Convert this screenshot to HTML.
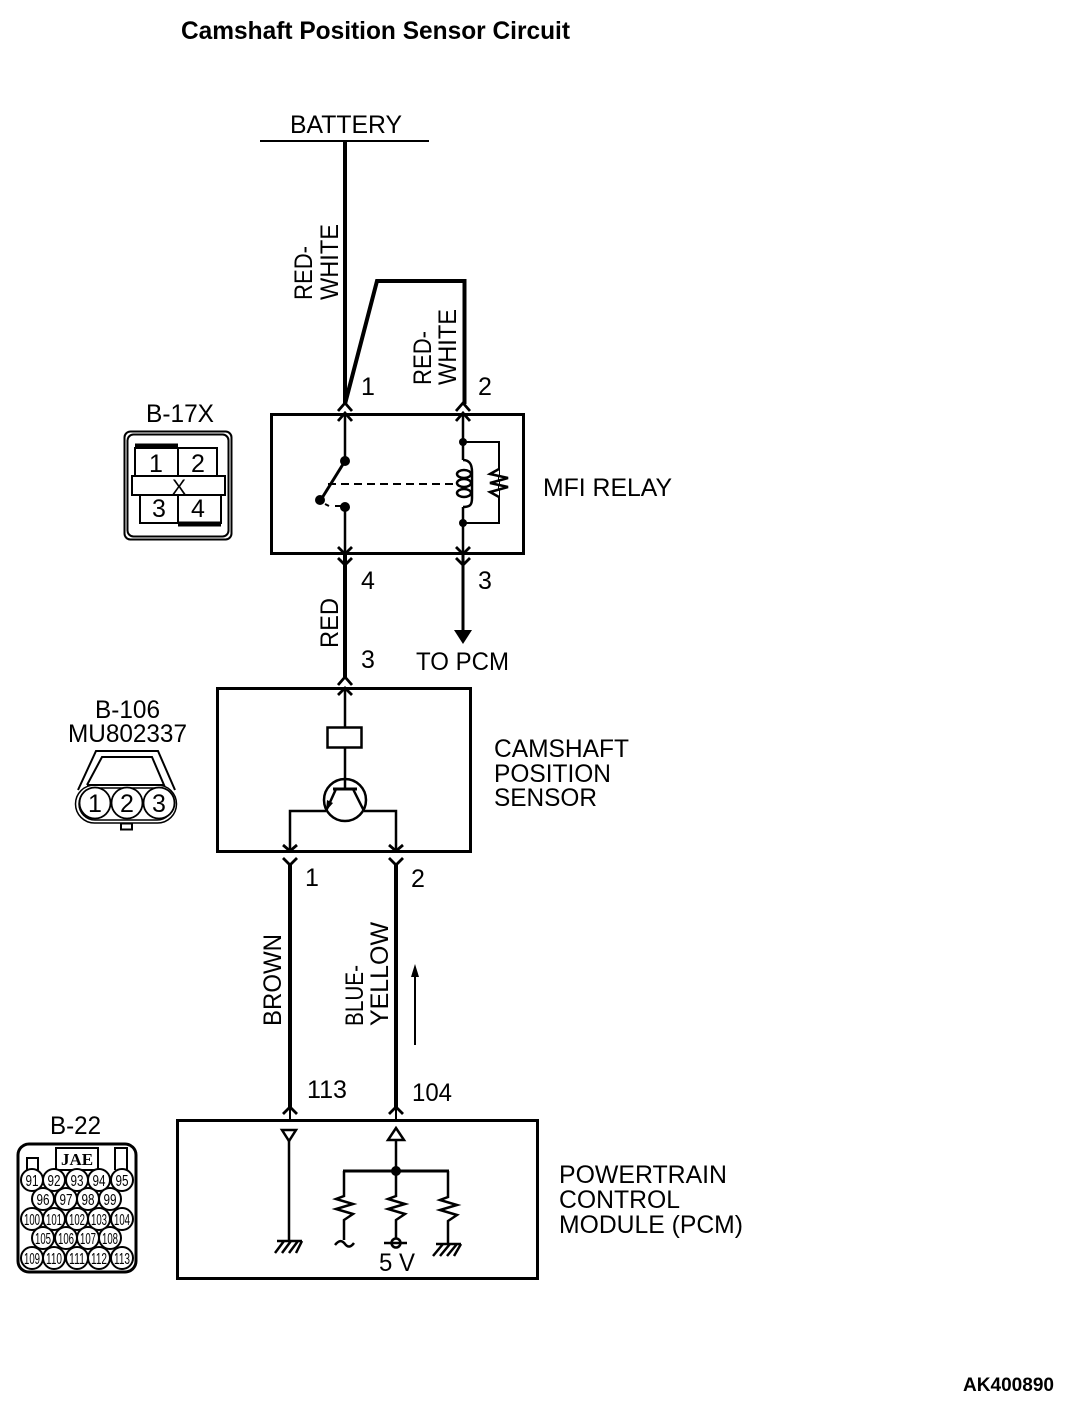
<!DOCTYPE html>
<html><head><meta charset="utf-8"><style>
html,body{margin:0;padding:0;background:#fff}
svg{display:block}
text{font-family:"Liberation Sans",sans-serif;font-size:25px;fill:#000}
.s{fill:none;stroke:#000;stroke-width:2}
.m{fill:none;stroke:#000;stroke-width:2.5}
.c{fill:none;stroke:#000;stroke-width:2.800}
.t{fill:none;stroke:#000;stroke-width:4}
.b{fill:none;stroke:#000;stroke-width:3}
.d{fill:#000}
.n{font-size:16px}
</style></head><body>
<svg width="1072" height="1404" viewBox="0 0 1072 1404" xmlns="http://www.w3.org/2000/svg">
<text x="181" y="39" lengthAdjust="spacingAndGlyphs" textLength="389" style="font-weight:bold">Camshaft Position Sensor Circuit</text>
<text x="963" y="1391" lengthAdjust="spacingAndGlyphs" style="font-weight:bold;font-size:19px" textLength="91">AK400890</text>

<!-- Battery -->
<text x="290" y="133" lengthAdjust="spacingAndGlyphs" textLength="112">BATTERY</text>
<path class="s" d="M260 141H429"/>
<path class="t" d="M345 141V404M345 404L377 281H464.500V404"/>
<text transform="translate(312,300) rotate(-90)" lengthAdjust="spacingAndGlyphs" textLength="54">RED-</text>
<text transform="translate(338,300) rotate(-90)" lengthAdjust="spacingAndGlyphs" textLength="76">WHITE</text>
<text transform="translate(431,385) rotate(-90)" lengthAdjust="spacingAndGlyphs" textLength="54">RED-</text>
<text transform="translate(456,385) rotate(-90)" lengthAdjust="spacingAndGlyphs" textLength="76">WHITE</text>
<text x="361" y="395">1</text>
<text x="478" y="395">2</text>

<!-- Relay -->
<rect class="b" x="271.500" y="414.500" width="252" height="139"/>
<path class="c" d="M338 411L345 403L352 411M338 421L345 413L352 421M456 411L463 403L470 411M456 421L463 413L470 421"/>
<path class="m" d="M345 414V461M345 507V554M463 414V460M463 507V554"/>
<circle class="d" cx="345" cy="461" r="5"/>
<circle class="d" cx="320" cy="500" r="5"/>
<circle class="d" cx="345" cy="507" r="5"/>
<path class="b" d="M345 461L322 498"/>
<path class="s" stroke-dasharray="8 5" d="M328 484H456"/>
<path class="s" d="M325 504L329 506M335 506H342"/>
<circle class="d" cx="463" cy="442" r="4"/>
<circle class="d" cx="463" cy="523" r="4"/>
<path class="s" d="M463 442H499V523H463"/>
<path class="m" d="M463 460C470 460 472 465 472 472V498C472 505 470 507 463 507"/>
<ellipse class="m" cx="464" cy="474" rx="7" ry="4"/>
<ellipse class="m" cx="464" cy="483" rx="7" ry="4"/>
<ellipse class="m" cx="464" cy="493" rx="7" ry="4"/>
<path d="M499 469L490 474L508 478L490 483L508 487L490 492L499 497" fill="#fff" stroke="#000" stroke-width="2.500"/>
<path class="c" d="M338 547L345 554L352 547M338 558L345 565L352 558M456 547L463 554L470 547M456 558L463 565L470 558"/>
<text x="543" y="496" lengthAdjust="spacingAndGlyphs" textLength="129">MFI RELAY</text>

<path class="t" d="M345 555V677"/>
<path class="b" d="M463 555V631"/>
<path class="d" d="M454 630H472L463 644Z"/>
<text x="361" y="589">4</text>
<text x="478" y="589">3</text>
<text x="416" y="670" lengthAdjust="spacingAndGlyphs" textLength="93">TO PCM</text>
<text transform="translate(338,648) rotate(-90)" lengthAdjust="spacingAndGlyphs" textLength="50">RED</text>
<text x="361" y="668">3</text>

<!-- B-17X -->
<text x="146" y="422" lengthAdjust="spacingAndGlyphs" textLength="68">B-17X</text>
<rect class="s" x="124.500" y="431.500" width="107" height="108" rx="6"/>
<rect class="s" x="127.500" y="434.500" width="101" height="102" rx="6"/>
<path class="s" d="M135 447V476M178 447V476M217 447V476M135 448H217"/>
<path d="M135 446H178" stroke="#000" stroke-width="5"/>
<rect class="s" x="132" y="476" width="93" height="19"/>
<path class="s" d="M140 495V523H221V495M178 495V523"/>
<path d="M178 524H221" stroke="#000" stroke-width="5"/>
<text x="149" y="472">1</text>
<text x="191" y="472">2</text>
<text x="152" y="517">3</text>
<text x="191" y="517">4</text>
<text x="172" y="494" style="font-size:21px">X</text>

<!-- Camshaft sensor -->
<rect class="b" x="217.500" y="688.500" width="253" height="163"/>
<path class="c" d="M338 685L345 677L352 685M338 695L345 688L352 695"/>
<path class="m" d="M345 688V727M345 747V789"/>
<rect class="m" x="327.500" y="727.500" width="34" height="20"/>
<circle class="m" cx="345" cy="800" r="21"/>
<path class="b" d="M333 789H357"/>
<path class="m" d="M336 789L326 811M353 789L364 811"/>
<path class="d" d="M326 811L327 800L333 803Z"/>
<path class="m" d="M326 811H290V851M364 811H396V851"/>
<path class="c" d="M283 845L290 851L297 845M283 858L290 865L297 858M389 845L396 851L403 845M389 858L396 865L403 858"/>
<text x="494" y="757" lengthAdjust="spacingAndGlyphs" textLength="135">CAMSHAFT</text>
<text x="494" y="782" lengthAdjust="spacingAndGlyphs" textLength="117">POSITION</text>
<text x="494" y="806" lengthAdjust="spacingAndGlyphs" textLength="103">SENSOR</text>

<!-- B-106 -->
<text x="95" y="718" lengthAdjust="spacingAndGlyphs" textLength="65">B-106</text>
<text x="68" y="742" lengthAdjust="spacingAndGlyphs" textLength="119">MU802337</text>
<path class="s" d="M78 790L96 751H158L175 790"/>
<path class="s" d="M87 785L102 757H152L164 785H87"/>
<rect x="75.500" y="785" width="101" height="38" rx="19" fill="none" stroke="#000" stroke-width="1.500"/>
<rect x="79" y="788" width="94" height="32" rx="16" fill="none" stroke="#000" stroke-width="1.500"/>
<circle cx="95" cy="803" r="15.500" fill="#fff" stroke="#000" stroke-width="1.800"/>
<circle cx="127" cy="803" r="15.500" fill="#fff" stroke="#000" stroke-width="1.800"/>
<circle cx="159" cy="803" r="15.500" fill="#fff" stroke="#000" stroke-width="1.800"/>
<text x="88" y="812">1</text>
<text x="120" y="812">2</text>
<text x="152" y="812">3</text>
<rect class="s" x="121" y="823.500" width="11" height="6"/>

<!-- Lower wires -->
<path class="t" d="M290 865V1108M396 865V1108"/>
<text x="305" y="886">1</text>
<text x="411" y="887">2</text>
<text transform="translate(281,1026) rotate(-90)" lengthAdjust="spacingAndGlyphs" textLength="92">BROWN</text>
<text transform="translate(363,1026) rotate(-90)" lengthAdjust="spacingAndGlyphs" textLength="61">BLUE-</text>
<text transform="translate(388,1026) rotate(-90)" lengthAdjust="spacingAndGlyphs" textLength="104">YELLOW</text>
<path class="s" d="M415 1045V975"/>
<path class="d" d="M411 977L415 964L419 977Z"/>
<text x="307" y="1098" lengthAdjust="spacingAndGlyphs" textLength="40">113</text>
<text x="412" y="1101" lengthAdjust="spacingAndGlyphs" textLength="40">104</text>

<!-- PCM -->
<rect class="b" x="177.500" y="1120.500" width="360" height="158"/>
<path class="c" d="M283 1114L290 1107L297 1114M389 1114L396 1107L403 1114"/>
<path class="s" d="M290 1108V1120M396 1108V1120"/>
<path class="m" d="M282 1130H296L289 1141Z"/>
<path class="m" d="M289 1141V1241"/>
<path class="m" d="M277 1241H302M284 1241L275 1253M291 1241L282 1253M298 1241L289 1253M302 1241L296 1253"/>
<path class="m" d="M388 1140H404L396 1128Z"/>
<path class="m" d="M396 1140V1171"/>
<path class="b" d="M343 1171H449"/>
<circle class="d" cx="396" cy="1171" r="5"/>
<path class="m" d="M344 1171V1196L336 1199L353 1204L336 1209L353 1214L344 1220V1240"/>
<path class="m" d="M396 1171V1196L388 1199L405 1204L388 1209L405 1214L396 1220V1238"/>
<path class="m" d="M448 1171V1197L440 1200L457 1205L440 1210L457 1215L448 1221V1243"/>
<path class="m" d="M335 1245C339 1240 342 1240 345 1244C348 1248 351 1247 354 1243"/>
<circle class="m" cx="396" cy="1243" r="4.500"/>
<path class="m" d="M384 1243H407"/>
<path class="m" d="M436 1244H461M443 1244L433 1256M450 1244L440 1256M457 1244L447 1256M461 1244L454 1256"/>
<text x="379" y="1271" lengthAdjust="spacingAndGlyphs" textLength="36">5 V</text>
<text x="559" y="1183" lengthAdjust="spacingAndGlyphs" textLength="168">POWERTRAIN</text>
<text x="559" y="1208" lengthAdjust="spacingAndGlyphs" textLength="121">CONTROL</text>
<text x="559" y="1233" lengthAdjust="spacingAndGlyphs" textLength="184">MODULE (PCM)</text>

<!-- B-22 -->
<text x="50" y="1134" lengthAdjust="spacingAndGlyphs" textLength="51">B-22</text>
<rect x="18" y="1144" width="118" height="128" rx="11" fill="none" stroke="#000" stroke-width="3"/>
<rect class="s" x="56" y="1148" width="42" height="22"/>
<text x="77" y="1165" text-anchor="middle" style="font-family:'Liberation Serif',serif;font-weight:bold;font-size:17px">JAE</text>
<path class="s" d="M27 1170V1158H38V1170M115 1170V1148H127V1170"/>
<g fill="#fff" stroke="#000" stroke-width="2">
<circle cx="32" cy="1180" r="11"/><circle cx="54" cy="1180" r="11"/><circle cx="77" cy="1180" r="11"/><circle cx="99" cy="1180" r="11"/><circle cx="122" cy="1180" r="11"/>
<circle cx="43" cy="1199" r="11"/><circle cx="66" cy="1199" r="11"/><circle cx="88" cy="1199" r="11"/><circle cx="110" cy="1199" r="11"/>
<circle cx="32" cy="1219" r="11"/><circle cx="54" cy="1219" r="11"/><circle cx="77" cy="1219" r="11"/><circle cx="99" cy="1219" r="11"/><circle cx="122" cy="1219" r="11"/>
<circle cx="43" cy="1238" r="11"/><circle cx="66" cy="1238" r="11"/><circle cx="88" cy="1238" r="11"/><circle cx="110" cy="1238" r="11"/>
<circle cx="32" cy="1258" r="11"/><circle cx="54" cy="1258" r="11"/><circle cx="77" cy="1258" r="11"/><circle cx="99" cy="1258" r="11"/><circle cx="122" cy="1258" r="11"/>
</g>
<g text-anchor="middle">
<text class="n" x="32" y="1186" lengthAdjust="spacingAndGlyphs" textLength="13">91</text><text class="n" x="54" y="1186" lengthAdjust="spacingAndGlyphs" textLength="13">92</text><text class="n" x="77" y="1186" lengthAdjust="spacingAndGlyphs" textLength="13">93</text><text class="n" x="99" y="1186" lengthAdjust="spacingAndGlyphs" textLength="13">94</text><text class="n" x="122" y="1186" lengthAdjust="spacingAndGlyphs" textLength="13">95</text>
<text class="n" x="43" y="1205" lengthAdjust="spacingAndGlyphs" textLength="13">96</text><text class="n" x="66" y="1205" lengthAdjust="spacingAndGlyphs" textLength="13">97</text><text class="n" x="88" y="1205" lengthAdjust="spacingAndGlyphs" textLength="13">98</text><text class="n" x="110" y="1205" lengthAdjust="spacingAndGlyphs" textLength="13">99</text>
<text class="n" x="32" y="1225" lengthAdjust="spacingAndGlyphs" textLength="16">100</text><text class="n" x="54" y="1225" lengthAdjust="spacingAndGlyphs" textLength="16">101</text><text class="n" x="77" y="1225" lengthAdjust="spacingAndGlyphs" textLength="16">102</text><text class="n" x="99" y="1225" lengthAdjust="spacingAndGlyphs" textLength="16">103</text><text class="n" x="122" y="1225" lengthAdjust="spacingAndGlyphs" textLength="16">104</text>
<text class="n" x="43" y="1244" lengthAdjust="spacingAndGlyphs" textLength="16">105</text><text class="n" x="66" y="1244" lengthAdjust="spacingAndGlyphs" textLength="16">106</text><text class="n" x="88" y="1244" lengthAdjust="spacingAndGlyphs" textLength="16">107</text><text class="n" x="110" y="1244" lengthAdjust="spacingAndGlyphs" textLength="16">108</text>
<text class="n" x="32" y="1264" lengthAdjust="spacingAndGlyphs" textLength="16">109</text><text class="n" x="54" y="1264" lengthAdjust="spacingAndGlyphs" textLength="16">110</text><text class="n" x="77" y="1264" lengthAdjust="spacingAndGlyphs" textLength="16">111</text><text class="n" x="99" y="1264" lengthAdjust="spacingAndGlyphs" textLength="16">112</text><text class="n" x="122" y="1264" lengthAdjust="spacingAndGlyphs" textLength="16">113</text>
</g>
</svg>
</body></html>
